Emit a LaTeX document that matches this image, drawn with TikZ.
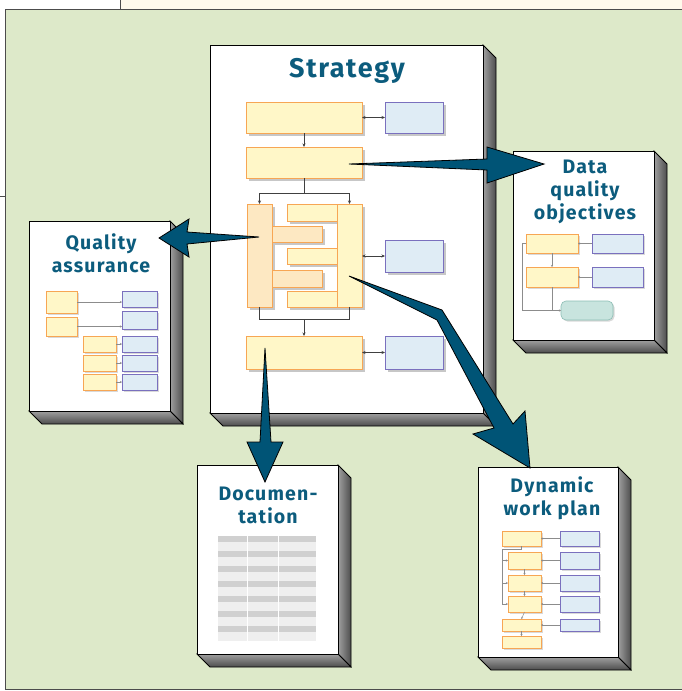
\documentclass[tikz,border=0pt]{standalone}
\usepackage{fontspec}
\newfontfamily\titlefont{Fira Sans}[LetterSpace=6]
\usetikzlibrary{arrows.meta,shadows}
\definecolor{panelgreen}{RGB}{221,233,201}
\definecolor{topcream}{RGB}{255,250,236}
\definecolor{boxyellow}{RGB}{255,247,200}
\definecolor{baror}{RGB}{253,232,194}
\definecolor{boxorange}{RGB}{247,166,84}
\definecolor{boxblue}{RGB}{223,236,245}
\definecolor{boxpurple}{RGB}{122,112,190}
\definecolor{boxteal}{RGB}{200,228,222}
\definecolor{tealedge}{RGB}{140,190,180}
\definecolor{titleblue}{RGB}{12,92,125}
\definecolor{arrowblue}{RGB}{0,84,118}
\definecolor{rowdark}{RGB}{208,208,208}
\definecolor{rowlight}{RGB}{239,239,239}
\tikzset{
    sheetface/.style={draw=black, fill=white, line width=1pt, inner sep=0pt, outer sep=0pt},
    ybox/.style={draw=boxorange, fill=boxyellow, line width=.8pt, inner sep=0pt, outer sep=0pt,
        drop shadow={shadow xshift=3pt, shadow yshift=-3pt, fill=black!22, opacity=1}},
    obox/.style={ybox, fill=baror},
    bbox/.style={ybox, draw=boxpurple, fill=boxblue},
    sybox/.style={draw=boxorange, fill=boxyellow, line width=.6pt, inner sep=0pt, outer sep=0pt,
        drop shadow={shadow xshift=1.5pt, shadow yshift=-1.5pt, fill=black!15, opacity=1}},
    sbbox/.style={sybox, draw=boxpurple, fill=boxblue},
    tbox/.style={sybox, draw=tealedge, fill=boxteal, rounded corners=5pt},
    title/.style={text=titleblue, font=\titlefont\bfseries\fontsize{19.5}{23}\selectfont, align=center},
    plain/.style={draw=black!75, line width=.6pt},
    link/.style={plain, -{Stealth[length=3.5pt,width=3pt]}},
    dlink/.style={plain, {Stealth[length=3.5pt,width=3pt]}-{Stealth[length=3.5pt,width=3pt]}},
    sline/.style={draw=black!45, line width=.5pt},
    slink/.style={sline, -{Stealth[length=2pt,width=2pt]}},
    bigarrow/.style={fill=arrowblue, draw=black, line width=.8pt, line join=miter},
}
\newcommand{\blk}[6]{\node[#2, anchor=north west, minimum width=#5pt-#3pt, minimum height=#6pt-#4pt] (#1) at (#3,#4) {};}
\newcommand{\sheet}[5]{%
    \shade[left color=gray!75, middle color=gray!15, right color=black!70, draw=black, line width=.8pt]
        (#4,#3) -- (#4+13,#3+13) -- (#4+13,#5+13) -- (#4,#5) -- cycle;
    \shade[top color=gray!75, middle color=gray!15, bottom color=black!70, draw=black, line width=.8pt]
        (#2,#5) -- (#4,#5) -- (#4+13,#5+13) -- (#2+13,#5+13) -- cycle;
    \node[sheetface, anchor=north west, minimum width=#4pt-#2pt, minimum height=#5pt-#3pt] (#1) at (#2,#3) {};}
\begin{document}
\begin{tikzpicture}[x=1pt,y=-1pt]
    \useasboundingbox (0,0) rectangle (682,691);
    \fill[white] (0,0) rectangle (682,691);
    \fill[topcream] (120,0) rectangle (682,9);
    \draw[black!70, line width=.8pt] (120,0) -- (120,9);
    \draw[black!70, line width=.8pt] (0,196) -- (5,196);
    \filldraw[fill=panelgreen, draw=black!70, line width=1pt] (5,9) rectangle (690,689);

    % strategy
    \sheet{strat}{210}{45}{483}{413}
    \node[title, font=\titlefont\bfseries\fontsize{27}{30}\selectfont] (strattitle) at (347,71) {Strategy};
    \blk{sa}{ybox}{246}{102}{362}{133}
    \blk{sba}{bbox}{385}{102}{443}{133}
    \blk{sb}{ybox}{246}{147}{362}{178}
    \blk{sl}{obox}{247}{204}{272}{307}
    \foreach \t/\b in {226/242, 270/287}
        \blk{so\t}{obox}{272}{\t}{322}{\b};
    \foreach \t/\b in {204/221, 248/264, 291/307}
        \blk{sy\t}{ybox}{287}{\t}{337}{\b};
    \blk{sr}{ybox}{337}{204}{362}{307}
    \blk{sbb}{bbox}{385}{240}{443}{272}
    \blk{sc}{ybox}{246}{336}{362}{369}
    \blk{sbc}{bbox}{385}{336}{443}{369}
    \draw[dlink] (sa.east) -- (sba.west);
    \draw[link] (sa.south) -- (sb.north);
    \draw[plain] (sb.south) -- ++(0,15) coordinate (split);
    \draw[link] (split) -| (sl.north);
    \draw[link] (split) -| (sr.north);
    \draw[plain] (sl.south) -- ++(0,12) coordinate (merge) -- (merge -| sr.south) -- (sr.south);
    \draw[link] (merge -| sc.north) -- (sc.north);
    \draw[dlink] (sr.east |- sbb.west) -- (sbb.west);
    \draw[dlink] (sc.east) -- (sbc.west);

    % quality assurance
    \sheet{qa}{29}{221}{170}{411}
    \node[title] (qatitle) at (101,253) {Quality\\assurance};
    \blk{qy1}{sybox}{46}{291}{77}{313}
    \blk{qy2}{sybox}{46}{317}{77}{336}
    \foreach \n/\t/\b in {1/291/307, 2/311/329, 3/336/352, 4/355/371, 5/374/390}
        \blk{qb\n}{sbbox}{122}{\t}{157}{\b};
    \foreach \n/\t/\b in {3/336/352, 4/355/371, 5/374/390}
        \blk{qs\n}{sybox}{83}{\t}{116}{\b};
    \draw[slink] (qy1.east) -- (qy1.east -| qb1.west);
    \draw[slink] (qy2.east) -- (qy2.east -| qb2.west);
    \foreach \n in {3,4,5}
        \draw[slink] (qs\n.east) -- (qb\n.west);

    % data quality objectives
    \sheet{dqo}{513}{151}{654}{340}
    \node[title] (dqotitle) at (585,192) {Data\\quality\\objectives};
    \blk{dy1}{sybox}{526}{234}{578}{253}
    \blk{db1}{sbbox}{592}{234}{643}{253}
    \blk{dy2}{sybox}{526}{267}{578}{287}
    \blk{db2}{sbbox}{592}{267}{643}{287}
    \blk{dt}{tbox}{561}{301}{613}{320}
    \draw[slink] (db1.west) -- (dy1.east);
    \draw[slink] (db2.west) -- (dy2.east);
    \draw[slink] (dy1.south) -- (dy2.north);
    \draw[slink] (dy1.west) -- ++(-4,0) |- (dt.west);
    \draw[sline] (dy2.south) -- (dy2.south |- dt.west);

    % documentation
    \sheet{doc}{197}{465}{338}{654}
    \node[title] (doctitle) at (268,505) {Documen-\\tation};
    \foreach \r in {0,...,6}
    {
        \fill[rowdark] (218,536+15*\r) rectangle (316,542+15*\r);
        \fill[rowlight] (218,542+15*\r) rectangle (316,551+15*\r);
    }
    \draw[white, line width=1pt] (247,536) -- (247,641);
    \draw[white, line width=1pt] (278,536) -- (278,641);

    % dynamic work plan
    \sheet{dwp}{478}{467}{618}{657}
    \node[title] (dwptitle) at (552,498) {Dynamic\\work plan};
    \foreach \n/\l/\t/\b in {1/502/531/546, 2/508/552/569, 3/508/575/591, 4/508/596/612, 5/502/619/631, 6/502/636/648}
        \blk{wy\n}{sybox}{\l}{\t}{541}{\b};
    \foreach \n/\t/\b in {1/531/546, 2/552/569, 3/575/591, 4/596/612, 5/619/631}
        \blk{wb\n}{sbbox}{560}{\t}{599}{\b};
    \foreach \n in {1,...,5}
        \draw[slink] (wb\n.west) -- (wy\n.east);
    \draw[sline] (wy1.south) -- ++(0,3) coordinate (wk) -- (wk -| wy1.west) coordinate (wk2) -- (wk2 |- wy4.west);
    \foreach \n in {2,3,4}
        \draw[slink] (wk2 |- wy\n.west) -- (wy\n.west);
    \draw[slink] (wy2.south) -- (wy3.north);
    \draw[slink] (wy3.south) -- (wy4.north);
    \draw[slink] (wy4.south) -- (wy5.north);
    \draw[slink] (wy5.south) -- (wy6.north);

    % big arrows
    \filldraw[bigarrow] (349,164) -- (487,159) -- (487,147) -- (544,164) -- (487,183) -- (487,170) -- cycle;
    \filldraw[bigarrow] (259,237) -- (187,232) -- (189,219) -- (159,238) -- (189,257) -- (187,244) -- cycle;
    \filldraw[bigarrow] (265,348) -- (271,442) -- (283,442) -- (265,482) -- (247,442) -- (260,442) -- cycle;
    \filldraw[bigarrow] (349,276) -- (442,310) -- (513,424) -- (525,411) -- (530,468) -- (473,434) -- (494,428) -- (437,320) -- cycle;
\end{tikzpicture}
\end{document}
